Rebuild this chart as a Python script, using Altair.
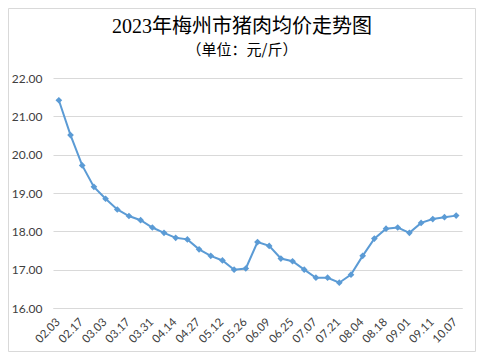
import json
import altair as alt
import pandas as pd

title_text = "2023年梅州市猪肉均价走势图"
subtitle_text = "（单位：元/斤）"
tick_labels = ["02.03", "02.17", "03.03", "03.17", "03.31", "04.14", "04.27", "05.12", "05.26",
               "06.09", "06.25", "07.07", "07.21", "08.04", "08.18", "09.01", "09.11", "10.07"]
prices = [21.42, 20.51, 19.72, 19.16, 18.85, 18.57, 18.40, 18.29, 18.10, 17.96, 17.83, 17.79,
          17.53, 17.36, 17.24, 17.00, 17.03, 17.72, 17.62, 17.29, 17.22, 17.00, 16.79, 16.79,
          16.66, 16.87, 17.36, 17.81, 18.07, 18.10, 17.96, 18.22, 18.32, 18.37, 18.41]
y_ticks = [16, 17, 18, 19, 20, 21, 22]

df = pd.DataFrame({"idx": list(range(len(prices))), "price": prices})
label_values = list(range(0, len(prices), 2))
label_expr = json.dumps(tick_labels) + "[datum.value / 2]"

W, H = 409, 230
COLOR = "#5B9BD5"

x_enc = alt.X("idx:O", scale=alt.Scale(padding=0.5),
              axis=alt.Axis(values=label_values, labelExpr=label_expr, title=None, grid=False,
                            domain=True, domainColor="#d9d9d9", ticks=False, labelAngle=-45,
                            labelFont="Lato", labelFontSize=11.5, labelColor="#404040",
                            labelPadding=8, labelOffset=-5))
y_enc = alt.Y("price:Q", scale=alt.Scale(domain=[16, 22], nice=False, zero=False),
              axis=alt.Axis(values=y_ticks, tickCount=7, format=".2f", title=None, domain=False,
                            ticks=False, gridColor="#d9d9d9", labelColor="#404040",
                            labelFont="Lato", labelFontSize=12, labelPadding=11,
                            labelOverlap=False))

base = alt.Chart(df).encode(x=x_enc, y=y_enc)
line = base.mark_line(color=COLOR, strokeWidth=2)
pts = base.mark_point(shape="diamond", filled=True, size=45, color=COLOR, opacity=1)

frame = alt.Chart(pd.DataFrame({"a": [0]})).mark_rect(
    fillOpacity=0, stroke="#d9d9d9", strokeWidth=1).encode(
    x=alt.value(-44.5), x2=alt.value(422.5), y=alt.value(-69.5), y2=alt.value(273.5))

title = alt.Chart(pd.DataFrame({"t": [title_text]})).mark_text(
    font="Liberation Serif, Noto Sans CJK SC", fontSize=20, color="black",
    baseline="middle").encode(text="t:N", x=alt.value(189), y=alt.value(-51))
subtitle = alt.Chart(pd.DataFrame({"t": [subtitle_text]})).mark_text(
    font="Noto Sans CJK SC", fontSize=15, color="black", baseline="middle").encode(
    text="t:N", x=alt.value(189), y=alt.value(-28))

chart = alt.layer(frame, line, pts, title, subtitle).properties(
    width=W, height=H, padding=0
).configure_view(stroke=None)

chart.save("out.html", embed_options={"renderer": "svg", "actions": False})
